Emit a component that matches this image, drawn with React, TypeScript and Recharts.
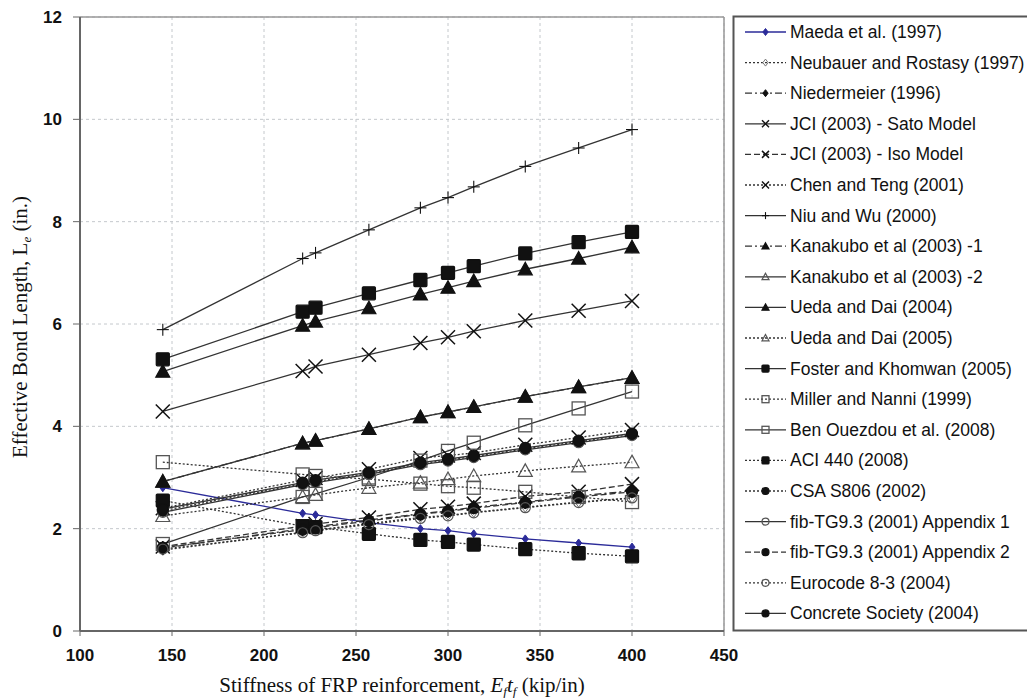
import React from 'react';
import { LineChart, Line, XAxis, YAxis, CartesianGrid, ReferenceLine, Label } from 'recharts';

// FRP stiffness values (kip/in) shared by every model
const stiffness = [145, 221, 228, 257, 285, 300, 314, 342, 371, 400];

const maeda = [2.8, 2.3, 2.27, 2.12, 2.0, 1.96, 1.9, 1.8, 1.72, 1.64];
const neubauer = [1.58, 1.93, 1.97, 2.1, 2.22, 2.26, 2.32, 2.42, 2.52, 2.6];
const niedermeier = [1.62, 2.0, 2.04, 2.17, 2.29, 2.35, 2.42, 2.52, 2.64, 2.74];
const jciSato = [4.29, 5.08, 5.17, 5.4, 5.63, 5.74, 5.86, 6.07, 6.26, 6.45];
const jciIso = [1.65, 2.05, 2.09, 2.22, 2.38, 2.43, 2.49, 2.63, 2.72, 2.87];
const chenTeng = [2.4, 2.95, 2.99, 3.16, 3.38, 3.43, 3.48, 3.64, 3.78, 3.93];
const niuWu = [5.89, 7.28, 7.39, 7.84, 8.27, 8.47, 8.68, 9.08, 9.44, 9.8];
const kanakubo1 = [2.92, 3.67, 3.72, 3.95, 4.18, 4.28, 4.38, 4.58, 4.77, 4.95];
const kanakubo2 = [2.92, 3.67, 3.72, 3.95, 4.18, 4.28, 4.38, 4.58, 4.77, 4.95];
const ueda2004 = [5.07, 5.97, 6.05, 6.31, 6.58, 6.71, 6.84, 7.07, 7.28, 7.5];
const ueda2005 = [2.25, 2.62, 2.66, 2.8, 2.9, 2.97, 3.03, 3.13, 3.22, 3.3];
const fosterKhomwan = [5.31, 6.24, 6.32, 6.6, 6.86, 7.0, 7.13, 7.38, 7.6, 7.8];
const millerNanni = [3.3, 3.06, 3.03, 2.97, 2.88, 2.83, 2.8, 2.72, 2.62, 2.52];
const benOuezdou = [1.7, 2.62, 2.68, 3.0, 3.33, 3.52, 3.68, 4.02, 4.35, 4.68];
const aci440 = [2.55, 2.05, 2.03, 1.9, 1.78, 1.74, 1.69, 1.6, 1.52, 1.46];
const csaS806 = [2.35, 2.88, 2.92, 3.08, 3.27, 3.34, 3.41, 3.56, 3.7, 3.84];
const fibApp1 = [2.32, 2.86, 2.9, 3.06, 3.25, 3.32, 3.39, 3.54, 3.68, 3.82];
const fibApp2 = [1.63, 1.98, 2.02, 2.15, 2.28, 2.34, 2.4, 2.51, 2.62, 2.72];
const eurocode = [1.6, 1.92, 1.96, 2.08, 2.2, 2.25, 2.31, 2.41, 2.51, 2.6];
const concreteSociety = [2.38, 2.9, 2.95, 3.1, 3.29, 3.36, 3.43, 3.58, 3.72, 3.86];

const xTicks = [100, 150, 200, 250, 300, 350, 400, 450];
const yTicks = [0, 2, 4, 6, 8, 10, 12];

type Shape = 'diamond' | 'x' | 'plus' | 'triangle' | 'square' | 'circle';

const DOT = '2 2';
const DASH = '6 3';
const DASHDOT = '7 3 2 3';

const series = [
  { name: 'Maeda et al. (1997)', values: maeda, dash: undefined, shape: 'diamond', filled: true, size: 4, color: '#2b2b99' },
  { name: 'Neubauer and Rostasy (1997)', values: neubauer, dash: DOT, shape: 'diamond', filled: false, size: 5, color: '#333' },
  { name: 'Niedermeier (1996)', values: niedermeier, dash: DASHDOT, shape: 'diamond', filled: true, size: 7, color: '#333' },
  { name: 'JCI (2003) - Sato Model', values: jciSato, dash: undefined, shape: 'x', filled: true, size: 7, color: '#333' },
  { name: 'JCI (2003) - Iso Model', values: jciIso, dash: DASH, shape: 'x', filled: true, size: 7, color: '#333' },
  { name: 'Chen and Teng (2001)', values: chenTeng, dash: DOT, shape: 'x', filled: true, size: 7, color: '#333' },
  { name: 'Niu and Wu (2000)', values: niuWu, dash: undefined, shape: 'plus', filled: true, size: 6, color: '#333' },
  { name: 'Kanakubo et al (2003) -2', values: kanakubo2, dash: undefined, shape: 'triangle', filled: false, size: 7, color: '#333' },
  { name: 'Kanakubo et al (2003) -1', values: kanakubo1, dash: DASHDOT, shape: 'triangle', filled: true, size: 7, color: '#333' },
  { name: 'Ueda and Dai (2004)', values: ueda2004, dash: undefined, shape: 'triangle', filled: true, size: 7, color: '#333' },
  { name: 'Ueda and Dai (2005)', values: ueda2005, dash: DOT, shape: 'triangle', filled: false, size: 7, color: '#333' },
  { name: 'Foster and Khomwan (2005)', values: fosterKhomwan, dash: undefined, shape: 'square', filled: true, size: 6.5, color: '#333' },
  { name: 'Miller and Nanni (1999)', values: millerNanni, dash: DOT, shape: 'square', filled: false, size: 6.5, color: '#333' },
  { name: 'Ben Ouezdou et al. (2008)', values: benOuezdou, dash: undefined, shape: 'square', filled: false, size: 6.5, color: '#333' },
  { name: 'ACI 440 (2008)', values: aci440, dash: DOT, shape: 'square', filled: true, size: 6.5, color: '#333' },
  { name: 'CSA S806 (2002)', values: csaS806, dash: DOT, shape: 'circle', filled: true, size: 5.5, color: '#333' },
  { name: 'fib-TG9.3 (2001) Appendix 1', values: fibApp1, dash: undefined, shape: 'circle', filled: false, size: 5, color: '#333' },
  { name: 'fib-TG9.3 (2001) Appendix 2', values: fibApp2, dash: DASH, shape: 'circle', filled: true, size: 5.5, color: '#333' },
  { name: 'Eurocode 8-3 (2004)', values: eurocode, dash: DOT, shape: 'circle', filled: false, size: 5, color: '#333' },
  { name: 'Concrete Society (2004)', values: concreteSociety, dash: undefined, shape: 'circle', filled: true, size: 5.5, color: '#333' },
] as const;

// legend order as in the figure
const legendOrder = [
  'Maeda et al. (1997)', 'Neubauer and Rostasy (1997)', 'Niedermeier (1996)', 'JCI (2003) - Sato Model',
  'JCI (2003) - Iso Model', 'Chen and Teng (2001)', 'Niu and Wu (2000)', 'Kanakubo et al (2003) -1',
  'Kanakubo et al (2003) -2', 'Ueda and Dai (2004)', 'Ueda and Dai (2005)', 'Foster and Khomwan (2005)',
  'Miller and Nanni (1999)', 'Ben Ouezdou et al. (2008)', 'ACI 440 (2008)', 'CSA S806 (2002)',
  'fib-TG9.3 (2001) Appendix 1', 'fib-TG9.3 (2001) Appendix 2', 'Eurocode 8-3 (2004)', 'Concrete Society (2004)',
];

const chartData = stiffness.map((x, i) => {
  const row: Record<string, number> = { x };
  series.forEach((s, k) => {
    row['s' + k] = s.values[i];
  });
  return row;
});

const SANS = '"Liberation Sans", Arial, Helvetica, sans-serif';
const SERIF = '"Liberation Serif", "Times New Roman", serif';

function Marker({ shape, filled, cx, cy, r, color }: { shape: Shape; filled: boolean; cx: number; cy: number; r: number; color: string }) {
  const ink = color === '#333' ? '#111' : color;
  const fill = filled ? ink : 'none';
  const stroke = filled ? ink : '#555';
  switch (shape) {
    case 'square':
      return <rect x={cx - r} y={cy - r} width={2 * r} height={2 * r} rx={filled ? 1 : 0} fill={fill} stroke={stroke} strokeWidth={1.3} />;
    case 'triangle':
      return (
        <polygon
          points={`${cx},${cy - r} ${cx + r},${cy + r * 0.8} ${cx - r},${cy + r * 0.8}`}
          fill={fill}
          stroke={stroke}
          strokeWidth={1.2}
        />
      );
    case 'circle':
      return <circle cx={cx} cy={cy} r={r} fill={fill} stroke={stroke} strokeWidth={1.2} />;
    case 'diamond':
      return (
        <polygon
          points={`${cx},${cy - r} ${cx + r * 0.75},${cy} ${cx},${cy + r} ${cx - r * 0.75},${cy}`}
          fill={fill}
          stroke={filled ? ink : '#777'}
          strokeWidth={1}
        />
      );
    case 'x':
      return (
        <g stroke={ink} strokeWidth={1.5}>
          <line x1={cx - r} y1={cy - r} x2={cx + r} y2={cy + r} />
          <line x1={cx - r} y1={cy + r} x2={cx + r} y2={cy - r} />
        </g>
      );
    case 'plus':
      return (
        <g stroke={ink} strokeWidth={1.1}>
          <line x1={cx - r} y1={cy} x2={cx + r} y2={cy} />
          <line x1={cx} y1={cy - r} x2={cx} y2={cy + r} />
        </g>
      );
    default:
      return null;
  }
}

const makeDot = (s: (typeof series)[number], k: number) => (props: any) => {
  const { cx, cy, index } = props;
  if (cx == null || cy == null) return <g key={`d${k}-${index}`} />;
  return (
    <g key={`d${k}-${index}`}>
      <Marker shape={s.shape} filled={s.filled} cx={cx} cy={cy} r={s.size} color={s.color} />
    </g>
  );
};

const LegendBox = () => {
  const rowTop = 32;
  const step = 30.6;
  return (
    <svg width={300} height={634} style={{ position: 'absolute', left: 727, top: 0 }}>
      <rect x={6.5} y={16.5} width={300} height={614} fill="#fff" stroke="#555" strokeWidth={2} />
      {legendOrder.map((name, i) => {
        const s = series.find((d) => d.name === name)!;
        const y = rowTop + i * step;
        return (
          <g key={name}>
            <line x1={18} y1={y} x2={59} y2={y} stroke={s.color} strokeWidth={1.3} strokeDasharray={s.dash} />
            <Marker shape={s.shape} filled={s.filled} cx={38.5} cy={y} r={3.5} color={s.color} />
            <text x={63} y={y + 6} fontSize={17.5} fontFamily={SANS} fill="#111">
              {name}
            </text>
          </g>
        );
      })}
    </svg>
  );
};

export default function App() {
  return (
    <div style={{ position: 'absolute', left: 0, top: 0, width: 1027, height: 698, background: '#fff' }}>
      <LineChart width={1027} height={698} data={chartData} margin={{ top: 17, right: 303, bottom: 0, left: 0 }}>
        <CartesianGrid stroke="#c4c8cc" strokeDasharray="3 3" />
        <XAxis
          dataKey="x"
          type="number"
          domain={[100, 450]}
          ticks={xTicks}
          allowDataOverflow
          height={67}
          tickSize={5}
          tickMargin={13}
          axisLine={{ stroke: '#666', strokeWidth: 2 }}
          tickLine={{ stroke: '#666' }}
          tick={{ fontSize: 17, fontWeight: 700, fontFamily: SANS, fill: '#111' }}
        >
          <Label
            content={() => (
              <text x={402} y={692} textAnchor="middle" fontSize={21} fontFamily={SERIF} fill="#111">
                Stiffness of FRP reinforcement,{' '}
                <tspan fontStyle="italic">E</tspan>
                <tspan fontStyle="italic" fontSize={13} dy={4}>f</tspan>
                <tspan fontStyle="italic" dy={-4}>t</tspan>
                <tspan fontStyle="italic" fontSize={13} dy={4}>f</tspan>
                <tspan dy={-4}> (kip/in)</tspan>
              </text>
            )}
          />
        </XAxis>
        <YAxis
          type="number"
          domain={[0, 12]}
          ticks={yTicks}
          width={80}
          tickSize={7}
          tickMargin={11}
          axisLine={{ stroke: '#666', strokeWidth: 2 }}
          tickLine={{ stroke: '#666' }}
          tick={{ fontSize: 17, fontWeight: 700, fontFamily: SANS, fill: '#111' }}
        >
          <Label
            content={() => (
              <text
                x={27}
                y={327}
                textAnchor="middle"
                fontSize={21}
                fontFamily={SERIF}
                fill="#111"
                transform="rotate(-90 27 327)"
              >
                Effective Bond Length, L
                <tspan fontStyle="italic" fontSize={13} dy={4}>e</tspan>
                <tspan dy={-4}> (in.)</tspan>
              </text>
            )}
          />
        </YAxis>
        <ReferenceLine y={12} stroke="#999" strokeWidth={1.5} />
        <ReferenceLine x={450} stroke="#999" strokeWidth={1.5} />
        {series.map((s, k) => (
          <Line
            key={s.name}
            dataKey={'s' + k}
            name={s.name}
            type="linear"
            stroke={s.color}
            strokeWidth={1.3}
            strokeDasharray={s.dash}
            dot={makeDot(s, k)}
            activeDot={false}
            isAnimationActive={false}
          />
        ))}
      </LineChart>
      <LegendBox />
    </div>
  );
}
